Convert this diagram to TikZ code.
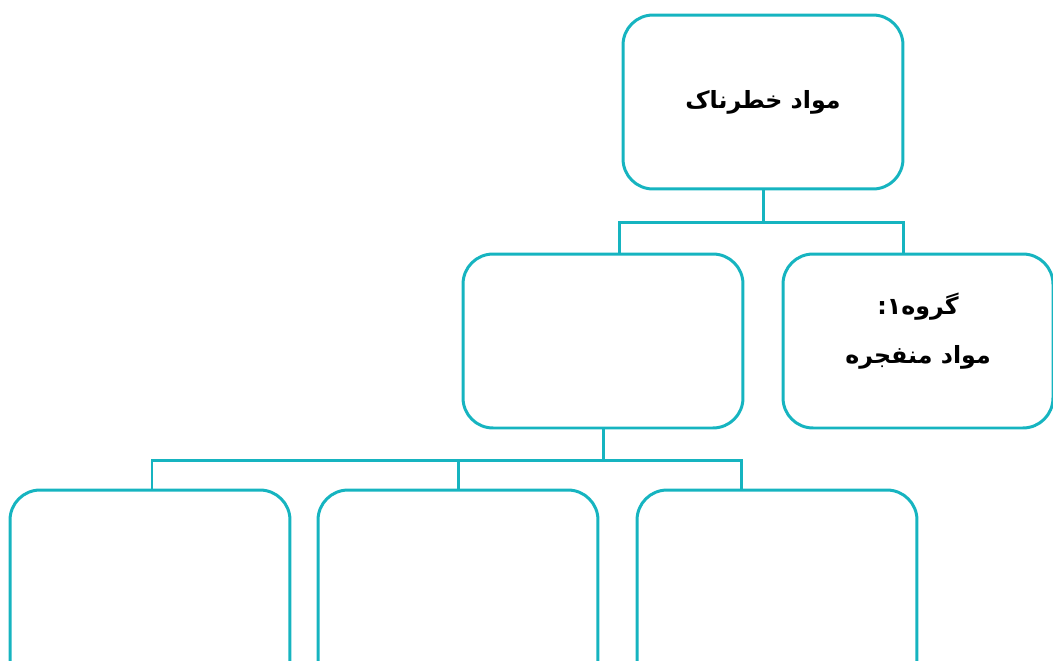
\documentclass[tikz,border=0pt]{standalone}
\usepackage{fontspec}
\newfontfamily\arabicfont[Script=Arabic]{DejaVu Sans}
\TeXXeTstate=1
\definecolor{lineteal}{RGB}{22,180,192}

\begin{document}
\begin{tikzpicture}[x=0.02cm, y=-0.02cm,
  catbox/.style={draw=lineteal, line width=1.7pt, rounded corners=0.6cm,
                 minimum width=5.6cm, minimum height=3.48cm, inner sep=0pt,
                 align=center, font=\arabicfont\bfseries\fontsize{13.5}{28}\selectfont},
  cattext/.style={align=center, inner sep=0pt,
                  font=\arabicfont\bfseries\fontsize{13.5}{28}\selectfont},
  link/.style={draw=lineteal, line width=1.7pt}
]
\useasboundingbox (0,0) rectangle (1053,660);
\clip (0,0) rectangle (1053,660);

\node[catbox] (hazard) at (763,102) {\beginR مواد خطرناک\endR};

\node[catbox] (groupx) at (603,341) {};
\node[catbox, minimum width=5.4cm] (group1) at (918,341) {};
\node[cattext] (group1text) at (918,331)
  {\beginR گروه۱:\endR\\\beginR مواد منفجره\endR};

\node[catbox, minimum height=4.4cm] (subc) at (150,600) {};
\node[catbox, minimum height=4.4cm] (subb) at (458,600) {};
\node[catbox, minimum height=4.4cm] (suba) at (777,600) {};

% upper joint
\draw[link] (hazard.south) -- (hazard.south |- 0,222) coordinate (hubtop);
\draw[link] (groupx.north -| 619,0) |- (hubtop) -| (group1.north -| 903,0);

% lower joint
\draw[link] (groupx.south) -- (groupx.south |- 0,460) coordinate (hubbot);
\draw[link] (subc.north -| 152,0) |- (hubbot) -| (suba.north -| 741,0);
\draw[link] (subb.north) -- (subb.north |- hubbot);

\end{tikzpicture}
\end{document}
